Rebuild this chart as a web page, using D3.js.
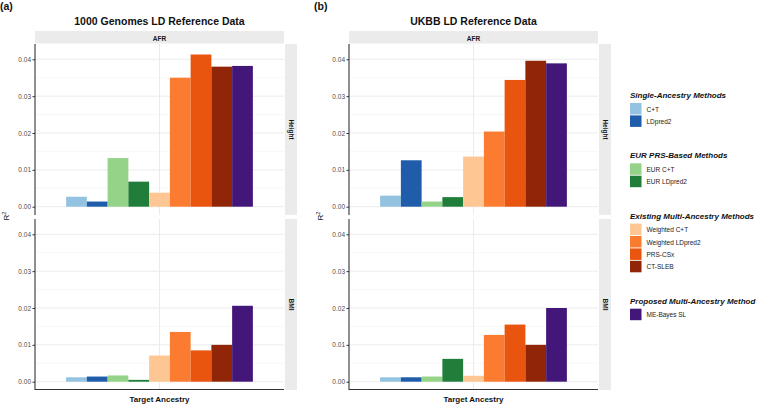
<!DOCTYPE html>
<html>
<head>
<meta charset="utf-8">
<script src="https://cdn.jsdelivr.net/npm/d3@7"></script>
<style>
  body { margin: 0; background: #fff; }
  text { font-family: "Liberation Sans", Arial, sans-serif; }
</style>
</head>
<body>
<div id="chart"></div>
<script>
// Methods and colours (legend order)
const methods = ["C+T", "LDpred2", "EUR C+T", "EUR LDpred2", "Weighted C+T",
  "Weighted LDpred2", "PRS-CSx", "CT-SLEB", "ME-Bayes SL"];
const colors = ["#93c3e0", "#1f5dab", "#95d388", "#217e3a", "#fdc693",
  "#fb7c30", "#e9540f", "#902507", "#431779"];
const groups = [
  { title: "Single-Ancestry Methods", items: ["C+T", "LDpred2"] },
  { title: "EUR PRS-Based Methods", items: ["EUR C+T", "EUR LDpred2"] },
  { title: "Existing Multi-Ancestry Methods", items: ["Weighted C+T", "Weighted LDpred2", "PRS-CSx", "CT-SLEB"] },
  { title: "Proposed Multi-Ancestry Method", items: ["ME-Bayes SL"] }
];

// R2 values
const kgHeight = [0.0027, 0.0014, 0.0132, 0.0068, 0.0038, 0.0350, 0.0413, 0.0380, 0.0382];
const kgBmi = [0.0012, 0.0014, 0.0017, 0.0005, 0.0071, 0.0135, 0.0085, 0.0100, 0.0206];
const ukbbHeight = [0.0030, 0.0126, 0.0014, 0.0026, 0.0136, 0.0204, 0.0344, 0.0396, 0.0389];
const ukbbBmi = [0.0012, 0.0012, 0.0014, 0.0062, 0.0016, 0.0127, 0.0155, 0.0100, 0.0200];

const yTicks = [0, 0.01, 0.02, 0.03, 0.04];
const yMinor = [0.005, 0.015, 0.025, 0.035];
const traits = ["Height", "BMI"];

const width = 766, height = 405;
const svg = d3.select("#chart").append("svg")
  .attr("width", width).attr("height", height);

const panelTops = [44, 219];
const panelH = 171;
const yDomain = [-0.00225, 0.04415];

const blocks = [
  { label: "(a)", title: "1000 Genomes LD Reference Data", left: 35, right: 284, data: [kgHeight, kgBmi] },
  { label: "(b)", title: "UKBB LD Reference Data", left: 349, right: 598, data: [ukbbHeight, ukbbBmi] }
];

blocks.forEach((b, bi) => {
  const g = svg.append("g");
  const cx = (b.left + b.right) / 2;

  g.append("text").attr("x", bi === 0 ? 0 : 314).attr("y", 10)
    .attr("font-size", 10.5).attr("font-weight", "bold").attr("fill", "#111")
    .text(b.label);

  g.append("text").attr("x", cx).attr("y", 25)
    .attr("text-anchor", "middle").attr("font-size", 10.5).attr("font-weight", "bold")
    .attr("fill", "#111").text(b.title);

  // top strip
  g.append("rect").attr("x", b.left).attr("y", 31).attr("width", b.right - b.left).attr("height", 12.5)
    .attr("fill", "#ebebeb");
  g.append("text").attr("x", cx).attr("y", 40.5).attr("text-anchor", "middle")
    .attr("font-size", 6.5).attr("font-weight", "bold").attr("fill", "#1a1a1a").text("AFR");

  // x scale: one discrete category with ggplot expansion
  const x = d3.scaleLinear().domain([0.4, 1.6]).range([b.left, b.right]);
  const xb = d3.scaleBand().domain(methods).range([x(0.55), x(1.45)]).padding(0);

  b.data.forEach((vals, pi) => {
    const top = panelTops[pi];
    const y = d3.scaleLinear().domain(yDomain).range([top + panelH, top]);
    const p = g.append("g");

    // grid
    p.selectAll(".minor").data(yMinor).join("line")
      .attr("x1", b.left).attr("x2", b.right)
      .attr("y1", d => y(d)).attr("y2", d => y(d))
      .attr("stroke", "#f2f2f2").attr("stroke-width", 0.6);
    p.selectAll(".major").data(yTicks).join("line")
      .attr("x1", b.left).attr("x2", b.right)
      .attr("y1", d => y(d)).attr("y2", d => y(d))
      .attr("stroke", "#ebebeb").attr("stroke-width", 1);
    p.append("line").attr("x1", x(1)).attr("x2", x(1))
      .attr("y1", top).attr("y2", top + panelH)
      .attr("stroke", "#ebebeb").attr("stroke-width", 1);

    // bars
    p.selectAll("rect.bar").data(vals).join("rect")
      .attr("x", (d, i) => xb(methods[i]))
      .attr("width", xb.bandwidth())
      .attr("y", d => y(d))
      .attr("height", d => y(0) - y(d))
      .attr("fill", (d, i) => colors[i]);

    // y axis
    const ax = p.append("g").attr("transform", `translate(${b.left},0)`)
      .call(d3.axisLeft(y).tickValues(yTicks).tickFormat(d3.format(".2f")).tickSize(2.5).tickPadding(1.5));
    ax.select(".domain").remove();
    ax.selectAll(".tick line").attr("stroke", "#333");
    ax.selectAll(".tick text").attr("font-size", 6.5).attr("fill", "#4d4d4d")
      .attr("font-family", "Liberation Sans, Arial, sans-serif");
    p.append("line").attr("x1", b.left).attr("x2", b.left)
      .attr("y1", top).attr("y2", top + panelH)
      .attr("stroke", "#333").attr("stroke-width", 1.1);

    // right strip
    p.append("rect").attr("x", b.right + 1).attr("y", top).attr("width", 12).attr("height", panelH)
      .attr("fill", "#ebebeb");
    p.append("text")
      .attr("transform", `translate(${b.right + 4.5},${top + panelH / 2}) rotate(90)`)
      .attr("text-anchor", "middle").attr("font-size", 6.5).attr("font-weight", "bold")
      .attr("fill", "#1a1a1a").text(traits[pi]);
  });

  // x axis line
  g.append("line").attr("x1", b.left).attr("x2", b.right)
    .attr("y1", panelTops[1] + panelH - 0.5).attr("y2", panelTops[1] + panelH - 0.5)
    .attr("stroke", "#333").attr("stroke-width", 1.1);

  g.append("text").attr("x", cx).attr("y", 402).attr("text-anchor", "middle")
    .attr("font-size", 8).attr("font-weight", "bold").attr("fill", "#111").text("Target Ancestry");

  const ylab = g.append("text")
    .attr("transform", `translate(${b.left - 26},216) rotate(-90)`)
    .attr("text-anchor", "middle").attr("font-size", 8).attr("fill", "#111");
  ylab.append("tspan").text("R");
  ylab.append("tspan").attr("font-size", 5.5).attr("dy", -3.5).text("2");
});

// legend
const legend = svg.append("g");
let ky = 103;
groups.forEach(gr => {
  legend.append("text").attr("x", 630).attr("y", ky - 5)
    .attr("font-size", 8).attr("font-weight", "bold").attr("font-style", "italic")
    .attr("fill", "#111").text(gr.title);
  gr.items.forEach(m => {
    const i = methods.indexOf(m);
    legend.append("rect").attr("x", 630).attr("y", ky).attr("width", 11.5).attr("height", 11.5)
      .attr("fill", colors[i]);
    legend.append("text").attr("x", 646.5).attr("y", ky + 8.5)
      .attr("font-size", 6.5).attr("fill", "#222").text(m);
    ky += 12.4;
  });
  ky += 35.5;
});
</script>
</body>
</html>
